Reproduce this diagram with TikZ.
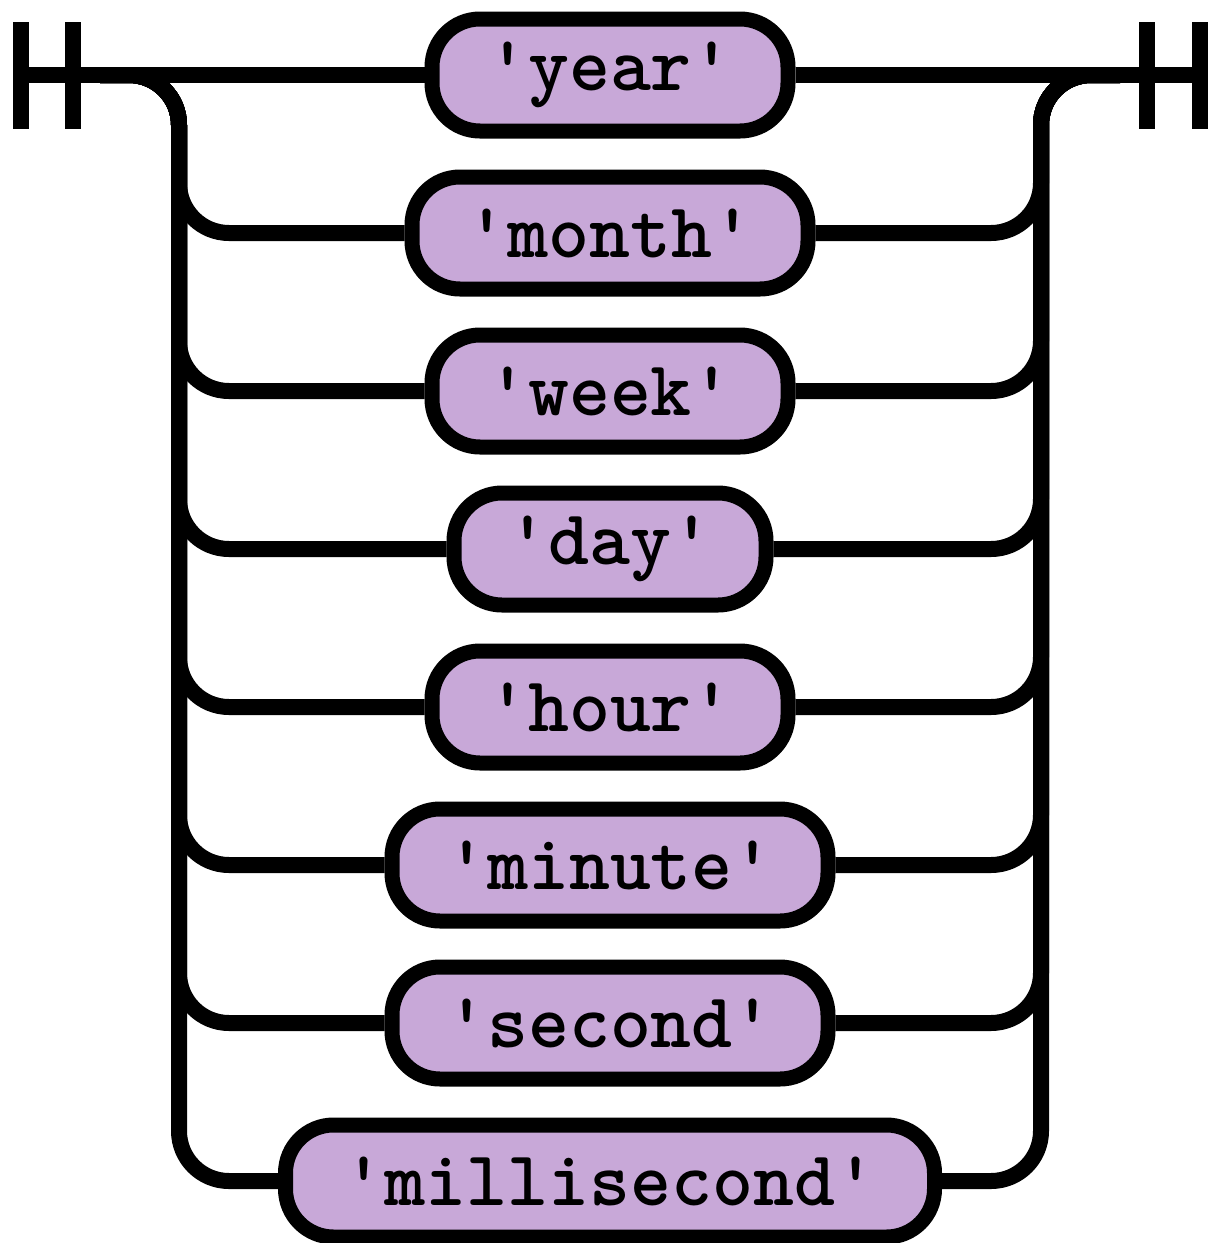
\documentclass[tikz,border=0pt]{standalone}
\usepackage{fontspec}
\definecolor{termfill}{RGB}{200,168,216}
\begin{document}
\begin{tikzpicture}[x=0.5pt, y=-0.5pt]
	\tikzset{terme/.style={rectangle, rounded corners=24pt, draw=black, line width=7.5pt, fill=termfill,
		text centered, minimum height=56pt, inner sep=0pt, font=\ttfamily\bfseries\fontsize{39}{44}\selectfont},
	rail/.style={line width=8pt, line cap=butt},
	courbe/.style={rail, rounded corners=25pt}};
	\useasboundingbox (0,0) rectangle (1212,1243);

	% start and end of the track
	\coordinate (debut) at (13,75);
	\coordinate (fin) at (1208,75);
	\coordinate (gauche) at (100,75);
	\coordinate (droite) at (1120,75);
	\draw[rail] (21,22) -- (21,129);
	\draw[rail] (73,22) -- (73,129);
	\draw[rail] (1147,22) -- (1147,129);
	\draw[rail] (1200,22) -- (1200,129);

	\foreach \i/\w/\t in {0/356/year, 1/396/month, 2/356/week, 3/312/day, 4/356/hour, 5/436/minute, 6/436/second, 7/649/millisecond} {
		\node[terme, minimum width={\w*0.5pt}] (T\i) at (610, 75+158*\i) {'\t'};
	}

	\draw[rail] (debut) -- (T0);
	\draw[rail] (T0) -- (fin);
	\foreach \i in {1,...,7} {
		\draw[courbe] (gauche) -| (179,75+158*\i) -- (T\i.west);
		\draw[courbe] (droite) -| (1041,75+158*\i) -- (T\i.east);
	}
\end{tikzpicture}
\end{document}
